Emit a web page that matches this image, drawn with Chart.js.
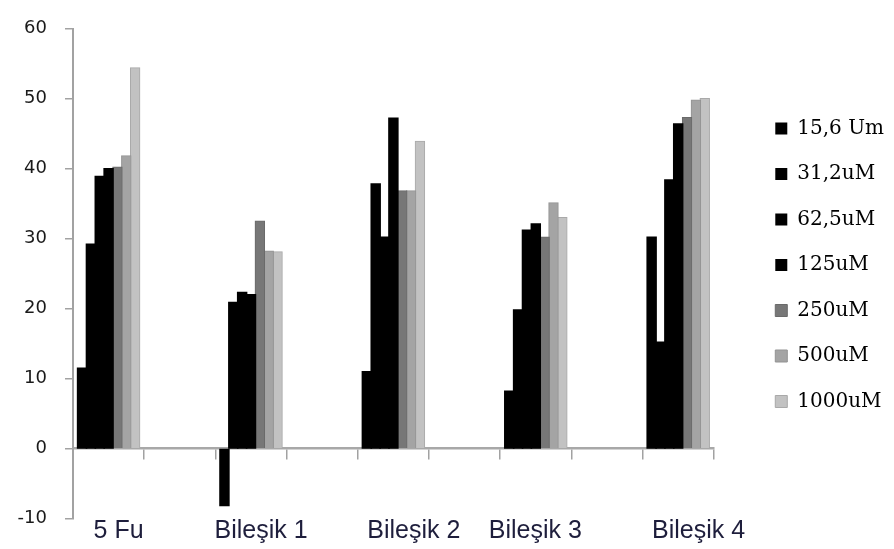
<!DOCTYPE html>
<html>
<head>
<meta charset="utf-8">
<script src="https://cdn.jsdelivr.net/npm/chart.js@4.4.1/dist/chart.umd.min.js"></script>
<style>
  html, body { margin: 0; padding: 0; background: #ffffff; }
  #wrap { width: 894px; height: 549px; }
</style>
</head>
<body>
<div id="wrap"><canvas id="c" width="894" height="549"></canvas></div>
<script>
// Compounds along the category axis; empty slots keep the gaps between groups
const categories = ['5 Fu', '', 'Bileşik 1', '', 'Bileşik 2', '', 'Bileşik 3', '', 'Bileşik 4'];

// Concentration series (legend order)
const seriesNames = ['15,6 Um', '31,2uM', '62,5uM', '125uM', '250uM', '500uM', '1000uM'];

const conc15_6  = [11.5, null, -8.1, null, 11.0, null,  8.2, null, 30.2];
const conc31_2  = [29.2, null, 20.9, null, 37.8, null, 19.8, null, 15.2];
const conc62_5  = [38.9, null, 22.3, null, 30.2, null, 31.2, null, 38.4];
const conc125   = [40.0, null, 22.0, null, 47.2, null, 32.1, null, 46.4];
const conc250   = [40.2, null, 32.5, null, 36.8, null, 30.2, null, 47.3];
const conc500   = [41.8, null, 28.2, null, 36.8, null, 35.1, null, 49.8];
const conc1000  = [54.4, null, 28.1, null, 43.9, null, 33.0, null, 50.0];

// Value axis range and step
const yMin = -10;
const yMax = 60;
const yStep = 10;

// Small sideways nudge of some category captions (in no-break spaces; + before, - after)
const captionNudge = [0, 0, 0, 0, 3, 0, -3, 0, 3];

const seriesValues = [conc15_6, conc31_2, conc62_5, conc125, conc250, conc500, conc1000];
const fills   = ['#000000', '#000000', '#000000', '#000000', '#777777', '#a4a4a4', '#c2c2c2'];
const borders = ['#000000', '#000000', '#000000', '#000000', '#6a6a6a', '#939393', '#a9a9a9'];
const borderW = [0, 0, 0, 0, 1, 1, 1];

const datasets = seriesNames.map((name, i) => ({
  label: name,
  data: seriesValues[i],
  backgroundColor: fills[i],
  borderColor: borders[i],
  borderWidth: borderW[i],
  inflateAmount: 0.8,
  xAxisID: 'x',
  yAxisID: 'y',
  categoryPercentage: 0.87,
  barPercentage: 1.0
}));

const axisGray = '#a2a2a2';
const nbsp = '\u00A0';

new Chart(document.getElementById('c'), {
  type: 'bar',
  data: { labels: categories, datasets: datasets },
  options: {
    responsive: false,
    animation: false,
    events: [],
    layout: { padding: { top: 22, right: 0, bottom: 0, left: 0 } },
    plugins: {
      tooltip: { enabled: false },
      legend: {
        position: 'right',
        align: 'start',
        title: { display: true, text: ' ', font: { size: 10 }, padding: { top: 59, bottom: 0 } },
        labels: {
          boxWidth: 12,
          boxHeight: 12,
          padding: 25.5,
          color: '#000000',
          font: { family: 'DejaVu Serif', size: 20 }
        }
      }
    },
    scales: {
      // category captions along the bottom edge
      x: {
        type: 'category',
        position: 'bottom',
        offset: true,
        grid: { display: false, drawTicks: false },
        border: { display: false },
        ticks: {
          autoSkip: false,
          maxRotation: 0,
          minRotation: 0,
          padding: -3,
          labelOffset: 10,
          color: '#1e1e3c',
          font: { family: 'Liberation Sans', size: 25 },
          callback: function (value, index) {
            const text = this.getLabelForValue(value);
            const n = captionNudge[index] || 0;
            if (!text || n === 0) return text;
            return n > 0 ? nbsp.repeat(n) + text : text + nbsp.repeat(-n);
          }
        },
        afterFit: (s) => { s.height = 30.3; }
      },
      // baseline at zero with group tick marks
      xZero: {
        type: 'category',
        labels: categories,
        position: { y: 0 },
        offset: true,
        grid: {
          offset: true,
          drawOnChartArea: false,
          drawTicks: true,
          tickLength: 10,
          color: axisGray,
          lineWidth: 1.5
        },
        border: { display: true, color: '#a8a8a8', width: 2.5 },
        ticks: { display: false }
      },
      y: {
        type: 'linear',
        position: 'left',
        min: yMin,
        max: yMax,
        ticks: {
          stepSize: yStep,
          padding: 18,
          color: '#1a1a1a',
          font: { family: 'DejaVu Sans', size: 18 }
        },
        grid: {
          drawOnChartArea: false,
          drawTicks: true,
          tickLength: 8,
          color: axisGray,
          lineWidth: 1.5
        },
        border: { display: true, color: axisGray, width: 2 },
        afterFit: (s) => { s.width = 73; }
      },
      // spacer between the plot and the legend
      gap: {
        type: 'linear',
        position: 'right',
        display: true,
        grid: { display: false, drawTicks: false },
        border: { display: false },
        ticks: { display: false },
        afterFit: (s) => { s.width = 36; }
      }
    }
  }
});
</script>
</body>
</html>
